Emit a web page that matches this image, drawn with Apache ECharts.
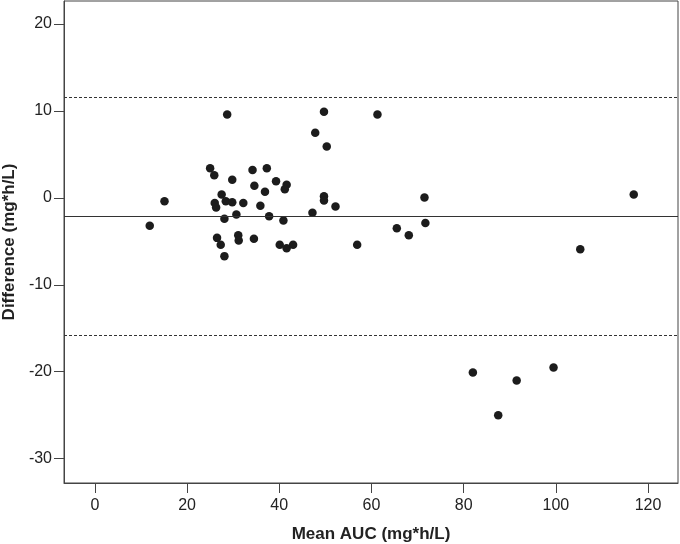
<!DOCTYPE html>
<html>
<head>
<meta charset="utf-8">
<script src="https://cdn.jsdelivr.net/npm/echarts@6/dist/echarts.min.js"></script>
<style>html,body{margin:0;padding:0;background:#fff}#c{width:680px;height:544px}</style>
</head>
<body>
<div id="c"></div>
<script>
// Bland-Altman data: mean AUC (x) and difference (y)
const meanAUC = [28.7, 49.7, 61.3, 47.8, 50.3, 25.0, 25.9, 34.2, 37.3, 29.8, 34.6, 39.3, 36.9, 41.6, 41.2, 15.1, 11.9, 27.5, 26.0, 26.3, 28.4, 29.8, 32.2, 35.9, 28.1, 30.7, 37.8, 40.9, 47.2, 49.7, 49.7, 52.2, 26.5, 27.3, 31.1, 31.2, 34.5, 28.1, 40.1, 41.6, 43.0, 56.9, 71.5, 116.9, 65.5, 68.1, 71.7, 105.3, 82.0, 91.5, 99.5, 87.5];
const difference = [9.6, 9.9, 9.6, 7.5, 5.9, 3.4, 2.6, 3.2, 3.4, 2.1, 1.4, 1.9, 0.7, 1.5, 1.0, -0.4, -3.2, 0.4, -0.6, -1.1, -0.4, -0.5, -0.6, -0.9, -2.4, -1.9, -2.1, -2.6, -1.7, 0.2, -0.3, -1.0, -4.6, -5.4, -4.3, -4.9, -4.7, -6.7, -5.4, -5.8, -5.4, -5.4, 0.05, 0.4, -3.5, -4.3, -2.9, -5.9, -20.1, -21.0, -19.5, -25.0];
const meanDiff = -2.1;
const upperLoA = 11.6;
const lowerLoA = -15.8;
const xTicks = [0, 20, 40, 60, 80, 100, 120];
const yTicks = [-30, -20, -10, 0, 10, 20];
const xTitle = 'Mean AUC (mg*h/L)';
const yTitle = 'Difference (mg*h/L)';

const points = meanAUC.map((x, i) => [x, difference[i]]);
const chart = echarts.init(document.getElementById('c'), null, {renderer: 'canvas'});
const lineCol = '#444';
const font = '"Liberation Sans", Arial, sans-serif';
chart.setOption({
  animation: false,
  backgroundColor: '#fff',
  grid: {left: 64, right: 2, top: 1, bottom: 61, containLabel: false, outerBoundsMode: 'none',
         show: true, borderColor: lineCol, borderWidth: 1},
  xAxis: {
    type: 'value', min: -6.7, max: 126.5,
    name: xTitle, nameLocation: 'middle', nameGap: 43,
    nameTextStyle: {fontFamily: font, fontWeight: 'bold', fontSize: 17, color: '#222'},
    axisLine: {show: true, onZero: false, lineStyle: {color: lineCol}},
    axisTick: {show: true, inside: false, length: 10, customValues: xTicks, lineStyle: {color: lineCol}},
    axisLabel: {customValues: xTicks, margin: 15, fontFamily: font, fontSize: 16, color: '#222'},
    splitLine: {show: false}
  },
  yAxis: {
    type: 'value', min: -32.8, max: 22.65,
    name: yTitle, nameLocation: 'middle', nameGap: 45, nameRotate: 90,
    nameTextStyle: {fontFamily: font, fontWeight: 'bold', fontSize: 17, color: '#222'},
    axisLine: {show: true, onZero: false, lineStyle: {color: lineCol}},
    axisTick: {show: true, inside: false, length: 10, customValues: yTicks, lineStyle: {color: lineCol}},
    axisLabel: {customValues: yTicks, margin: 12, fontFamily: font, fontSize: 16, color: '#222'},
    splitLine: {show: false}
  },
  series: [{
    type: 'scatter',
    data: points,
    symbol: 'circle',
    symbolSize: 8.5,
    itemStyle: {color: '#1c1c1c', opacity: 1},
    z: 3,
    markLine: {
      silent: true, symbol: 'none', label: {show: false},
      data: [
        {yAxis: meanDiff, lineStyle: {type: 'solid', color: '#333', width: 1}},
        {yAxis: upperLoA, lineStyle: {type: [3, 2], color: '#333', width: 1}},
        {yAxis: lowerLoA, lineStyle: {type: [3, 2], color: '#333', width: 1}}
      ]
    }
  }]
});
</script>
</body>
</html>
